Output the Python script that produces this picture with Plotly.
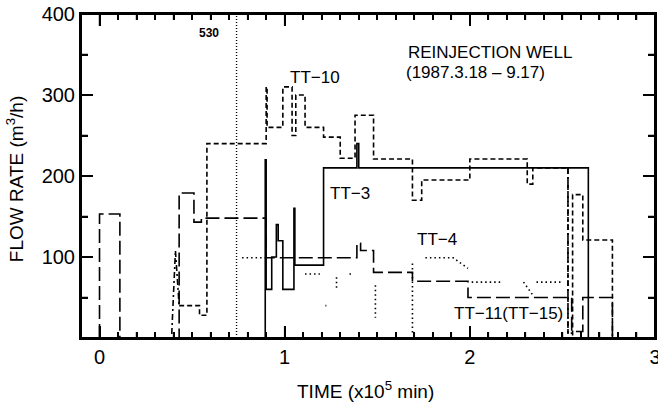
import plotly.graph_objects as go

# ---- data (x in 1e5 min, y in m3/h) ----
tt3_x = [0.895, 0.895, 0.90, 0.93, 0.955, 0.965, 0.99, 1.05, 1.055, 1.21, 1.39, 1.40, 2.64, 2.64]
tt3_y = [0, 220, 60, 100, 140, 120, 60, 160, 90, 210, 240, 210, 210, 0]

tt10_x = [0.43, 0.54, 0.58, 0.90, 0.905, 0.99, 1.04, 1.06, 1.11, 1.21, 1.30, 1.38, 1.48,
          1.69, 1.74, 2.00, 2.31, 2.34, 2.53, 2.555, 2.61, 2.77, 2.77]
tt10_y = [40, 28, 240, 310, 260, 310, 250, 300, 260, 248, 222, 275, 221,
          170, 195, 221, 190, 210, 0, 177, 121, 0, 0]

tt11_x = [0.0, 0.0, 0.11, 0.43, 0.43, 0.51, 0.55, 0.90, 1.39, 1.41, 1.48, 1.69, 1.99,
          2.55, 2.61, 2.77, 2.77]
tt11_y = [0, 153, 0, 0, 179, 143, 148, 99, 117, 108, 81, 70, 50,
          8, 50, 0, 0]

tt15_x = [0.39, 0.41, 0.43, 0.43, None, 2.53, 2.53, 2.555]
tt15_y = [5, 108, 40, 40, None, 210, 6, 6]

tt4_x = [0.77, 0.90, None, 1.11, 1.19, None, 1.28, 1.28, None, 1.22, 1.225, None, 1.35, 1.36,
         None, 1.49, 1.49, None, 1.69, 1.69, None, 1.76, 1.91, 1.99, None, 2.01, 2.17,
         None, 2.29, 2.34, None, 2.36, 2.49]
tt4_y = [99, 99, None, 79, 79, None, 75, 62, None, 40, 40, None, 79, 79,
         None, 65, 25, None, 92, 5, None, 99, 99, 86, None, 69, 69,
         None, 69, 53, None, 69, 69]

mark530_x = [0.74, 0.74]
mark530_y = [0, 400]

x_ticks = [0, 1, 2, 3]
y_ticks = [100, 200, 300, 400]
x_range = [-0.1, 3.0]
y_range = [0, 400]

FONT = "Liberation Sans, Arial, sans-serif"
W = 1.6

fig = go.Figure()
fig.add_trace(go.Scatter(x=mark530_x, y=mark530_y, mode="lines",
                         line=dict(color="black", width=1.4, dash="1px,2px")))
fig.add_trace(go.Scatter(x=tt4_x, y=tt4_y, mode="lines", connectgaps=False,
                         line=dict(color="black", width=1.6, dash="1.5px,3px")))
fig.add_trace(go.Scatter(x=tt15_x, y=tt15_y, mode="lines", connectgaps=False,
                         line=dict(color="black", width=W, dash="6px,3px,2px,3px")))
fig.add_trace(go.Scatter(x=tt11_x, y=tt11_y, mode="lines", line_shape="hv",
                         line=dict(color="black", width=W, dash="14px,5px")))
fig.add_trace(go.Scatter(x=tt10_x, y=tt10_y, mode="lines", line_shape="hv",
                         line=dict(color="black", width=W, dash="5px,3px")))
fig.add_trace(go.Scatter(x=tt3_x, y=tt3_y, mode="lines", line_shape="hv",
                         line=dict(color="black", width=W)))

# ---- frame and inward ticks drawn as plain lines (decoration, derived from the axis setup) ----
x0, x1 = x_range
y0, y1 = y_range
px_per_x = 574 / (x1 - x0)
px_per_y = 324 / (y1 - y0)
frame_x = [x0, x1, x1, x0, x0]
frame_y = [y0, y0, y1, y1, y0]
tx, ty = [], []
for i in range(int(round(x0 * 10)), int(round(x1 * 10)) + 1):
    xv = i / 10
    L = (12 if i % 10 == 0 else 6) / px_per_y
    tx += [xv, xv, None, xv, xv, None]
    ty += [y0, y0 + L, None, y1, y1 - L, None]
for j in range(0, int(y1 // 50) + 1):
    yv = j * 50
    L = (12 if yv % 100 == 0 else 7) / px_per_x
    tx += [x0, x0 + L, None, x1, x1 - L, None]
    ty += [yv, yv, None, yv, yv, None]
fig.add_trace(go.Scatter(x=tx, y=ty, mode="lines", cliponaxis=False, hoverinfo="skip",
                         line=dict(color="black", width=1.5)))
fig.add_trace(go.Scatter(x=frame_x, y=frame_y, mode="lines", cliponaxis=False, hoverinfo="skip",
                         line=dict(color="black", width=2)))

axis_common = dict(showline=True, linecolor="black", linewidth=2, mirror="ticks",
                   ticks="inside", tickcolor="black", tickwidth=1.5, ticklen=12,
                   showgrid=False, zeroline=False, automargin=False,
                   tickfont=dict(family=FONT, size=20, color="black"))

fig.update_xaxes(range=x_range, tickvals=x_ticks, ticktext=[str(v) for v in x_ticks],
                 minor=dict(dtick=0.1, ticks="inside", ticklen=6, tickcolor="black", tickwidth=1.5),
                 ticklabeloverflow="allow", **axis_common)
fig.update_yaxes(range=y_range, tickvals=y_ticks, ticktext=[str(v) for v in y_ticks],
                 minor=dict(dtick=50, ticks="inside", ticklen=7, tickcolor="black", tickwidth=1.5),
                 **axis_common)

def ann(text, x, y, size=17, **kw):
    fig.add_annotation(text=text, x=x, y=y, xref="x", yref="y", showarrow=False,
                       font=dict(family=FONT, size=size, color="black"), **kw)

ann("<b>530</b>", 0.59, 376, size=12, xanchor="center")
ann("TT\u221210", 1.166, 321)
ann("REINJECTION WELL", 1.655, 352, xanchor="left")
ann("(1987.3.18 \u2013 9.17)", 1.645, 328, xanchor="left")
ann("TT\u22123", 1.355, 179)
ann("TT\u22124", 1.82, 121)
ann("TT\u221211(TT\u221215)", 2.21, 30)

fig.add_annotation(text="TIME (x10<sup>5</sup> min)", xref="paper", yref="paper",
                   x=0.495, y=-0.16, showarrow=False, yanchor="middle",
                   font=dict(family=FONT, size=19, color="black"))
fig.add_annotation(text="FLOW RATE (m<sup>3</sup>/h)", xref="paper", yref="paper",
                   x=-0.115, y=0.49, showarrow=False, textangle=-90, xanchor="center",
                   font=dict(family=FONT, size=19, color="black"))

fig.update_layout(width=658, height=402, showlegend=False,
                  margin=dict(l=81, r=3, t=14, b=64, autoexpand=False),
                  plot_bgcolor="white", paper_bgcolor="white")

# remove the default 8px page margin so the figure sits at the window's corner
fig.write_html("out.html", config={"displayModeBar": False},
               post_script="document.body.style.margin='0px';document.body.style.overflow='hidden';")
